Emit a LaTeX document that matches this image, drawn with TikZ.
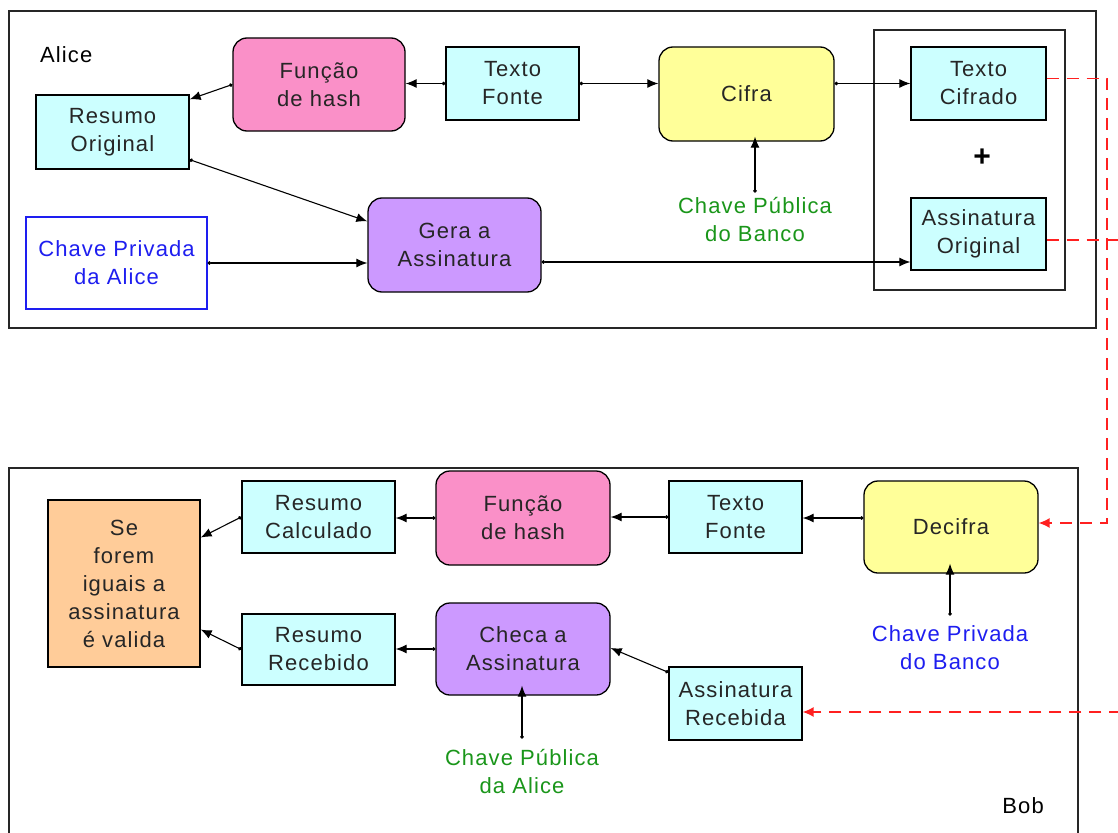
\documentclass[tikz,border=0pt]{standalone}
\usepackage{fontspec}
\setmainfont{Liberation Sans}[LetterSpace=5]
\usetikzlibrary{arrows.meta}
\definecolor{cyanc}{HTML}{CCFFFF}
\definecolor{pinkc}{HTML}{FA90C8}
\definecolor{yellowc}{HTML}{FFFF99}
\definecolor{purplec}{HTML}{CC99FF}
\definecolor{orangec}{HTML}{FFCC99}
\definecolor{greenc}{HTML}{1A961A}
\definecolor{bluec}{HTML}{1E1EF0}
\definecolor{redc}{HTML}{FF2020}
\newcommand{\fs}{\fontsize{22}{28}\selectfont}
\tikzset{
  sz/.style 2 args={minimum width=#1pt, minimum height=#2pt},
  base/.style={draw=black, line width=1.3pt, align=center, inner sep=0pt, font=\fs, text=black!85},
  cyanbox/.style={base, fill=cyanc},
  rbox/.style={base, rounded corners=14pt},
  lbl/.style={align=center, inner sep=0pt, font=\fs},
  arr/.style={line width=1.1pt, {Circle[length=3.5pt]}-{Latex[length=11pt,width=9pt]}},
  reddash/.style={draw=redc, line width=1.4pt, dash pattern=on 12pt off 8pt, -{Latex[length=11pt,width=10pt]}},
  frame/.style={draw=black!85, line width=1.3pt},
}
\begin{document}
\begin{tikzpicture}[x=1pt,y=-1pt]
\useasboundingbox (0,0) rectangle (1118,832);
\fill[white] (0,0) rectangle (1118,832);
% ---------------- Alice ----------------
\draw[frame] (9,11) rectangle (1096,328);
\node[lbl, anchor=west] (alice) at (40,55) {Alice};
\draw[frame] (874,30) rectangle (1065,290);

\node[rbox, fill=pinkc, sz={172}{93}] (fh1) at (319,84.5) {Função\\de hash};
\node[cyanbox, sz={133}{73}] (tf1) at (512.5,83.5) {Texto\\Fonte};
\node[cyanbox, sz={153}{74}] (ro) at (112.5,132) {Resumo\\Original};
\node[rbox, fill=yellowc, sz={175}{94}] (cif) at (746.5,94) {Cifra};
\node[cyanbox, sz={135}{73}] (tc) at (978.5,83.5) {Texto\\Cifrado};
\node[lbl, font=\fontsize{30}{30}\selectfont\bfseries] (plus) at (982,158) {+};
\node[cyanbox, sz={135}{72}] (ao) at (978.5,234) {Assinatura\\Original};
\node[lbl, text=greenc] (cpb) at (755,220) {Chave Pública\\do Banco};
\node[rbox, fill=purplec, sz={173}{94}] (gera) at (454.5,245) {Gera a\\Assinatura};
\node[base, draw=bluec, text=bluec, sz={181}{92}] (cpa) at (116.5,263) {Chave Privada\\da Alice};

\draw[arr] (tf1.west) -- (tf1.west -| fh1.east);
\draw[arr] (fh1.west) -- ([yshift=-5pt]ro.north east);
\draw[arr] ([yshift=10pt]ro.south east) -- ([yshift=-24pt]gera.north west);
\draw[arr] (cpa.east) -- ([yshift=-18pt]gera.west);
\draw[arr] ([yshift=-17pt]gera.east) -- ([yshift=-17pt]gera.east -| ao.west);
\draw[arr] (tf1.east) -- (tf1.east -| cif.west);
\draw[arr] (tc.west -| cif.east) -- (tc.west);
\draw[arr] ([yshift=5pt]cpb.north) -- ([yshift=5pt]cpb.north |- cif.south);

% ---------------- Bob ----------------
\draw[frame] (9,840) -- (9,468) -- (1078,468) -- (1078,840);
\node[lbl, anchor=east] (bob) at (1044,806) {Bob};

\node[base, fill=orangec, sz={152}{167}] (se) at (124,583.5) {Se\\forem\\iguais a\\assinatura\\é valida};
\node[cyanbox, sz={153}{72}] (rc) at (318.5,517) {Resumo\\Calculado};
\node[rbox, fill=pinkc, sz={174}{94}] (fh2) at (523,518) {Função\\de hash};
\node[cyanbox, sz={133}{72}] (tf2) at (735.5,517) {Texto\\Fonte};
\node[rbox, fill=yellowc, sz={174}{92}] (dec) at (951,527) {Decifra};
\node[lbl, text=bluec] (cpv) at (950,648) {Chave Privada\\do Banco};
\node[cyanbox, sz={153}{71}] (rr) at (318.5,649.5) {Resumo\\Recebido};
\node[rbox, fill=purplec, sz={174}{92}] (chk) at (523,649) {Checa a\\Assinatura};
\node[cyanbox, sz={133}{73}] (ar) at (735.5,703.5) {Assinatura\\Recebida};
\node[lbl, text=greenc] (cpa2) at (522,771) {Chave Pública\\da Alice};

\draw[arr] ([yshift=9pt]dec.west) -- ([yshift=9pt]dec.west -| tf2.east);
\draw[arr] (tf2.west) -- (tf2.west -| fh2.east);
\draw[arr] (fh2.west) -- (fh2.west -| rc.east);
\draw[arr] (rc.west) -- ([yshift=46pt]se.east);
\draw[arr] (rr.west) -- ([yshift=-46pt]se.east);
\draw[arr] (chk.west) -- (chk.west -| rr.east);
\draw[arr] ([yshift=-6pt]ar.north west) -- ([yshift=1pt]chk.east);
\draw[arr] ([yshift=10pt]cpv.north) -- ([yshift=10pt]cpv.north |- dec.south);
\draw[arr] ([yshift=10pt]cpa2.north) -- ([yshift=10pt]cpa2.north |- chk.south);

% ---------------- red dashed links ----------------
\coordinate (rA) at (1107,0);
\coordinate (rB) at (1128,0);
\draw[reddash] ([yshift=5pt]tc.east) -- ([yshift=5pt]tc.east -| rA) -- ([yshift=4pt]dec.east -| rA) -- ([yshift=4pt]dec.east);
\draw[reddash] ([yshift=-6pt]ao.east) -- ([yshift=-6pt]ao.east -| rB) -- ([yshift=-8.5pt]ar.east -| rB) -- ([yshift=-8.5pt]ar.east);
\end{tikzpicture}
\end{document}
